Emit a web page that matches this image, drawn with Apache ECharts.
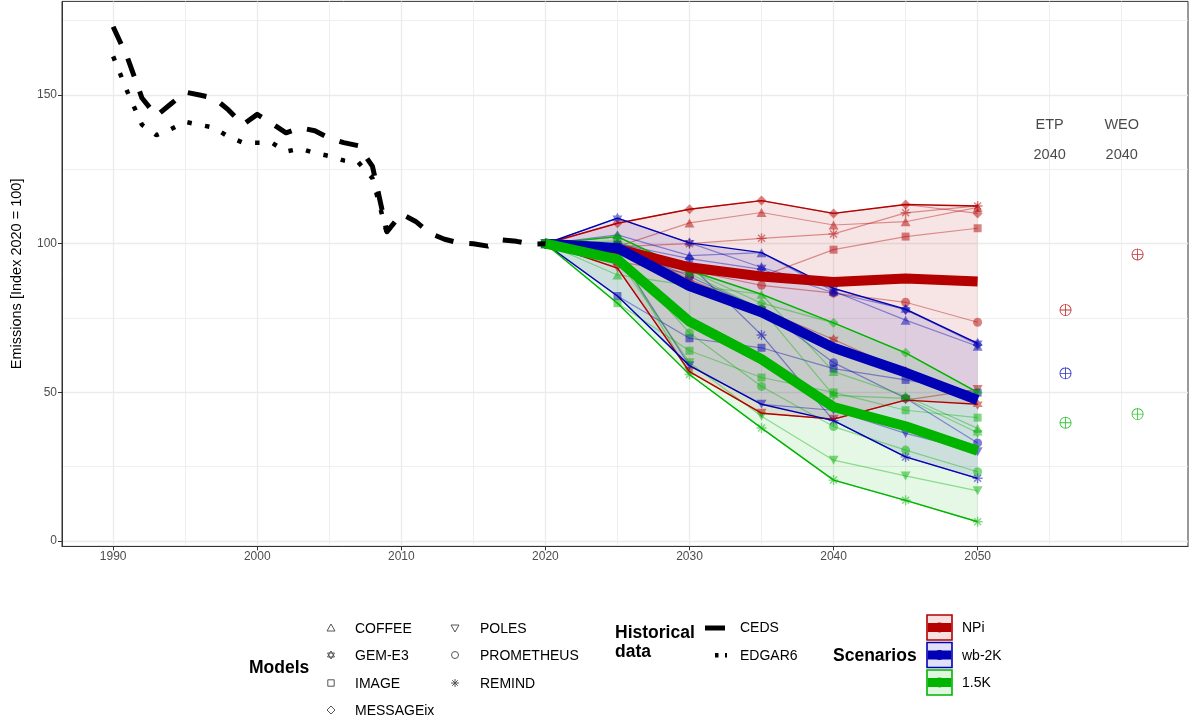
<!DOCTYPE html>
<html>
<head>
<meta charset="utf-8">
<title>Emissions index 1990-2050</title>
<script src="https://cdn.jsdelivr.net/npm/echarts@6/dist/echarts.min.js"></script>
<style>
  html, body { margin: 0; padding: 0; background: #ffffff; }
  #chart { width: 1190px; height: 722px; }
</style>
</head>
<body>
<div id="chart"></div>
<script>
// ---------- historical emissions (index, 2020 = 100) ----------
const histYears = [1990, 1991, 1992, 1993, 1994, 1995, 1996, 1997, 1998, 1999, 2000, 2001, 2002, 2003, 2004,
  2005, 2006, 2007, 2008, 2009, 2010, 2011, 2012, 2013, 2014, 2015, 2016, 2017, 2018, 2019, 2020];
const cedsIndex = [173, 162.5, 149, 143, 147, 151, 150, 149, 145, 140, 143.5, 140.5, 137.3, 139, 138,
  135.5, 134, 133, 126, 104, 110, 107.5, 103.5, 101.5, 100.3, 100, 99.2, 101.3, 100.8, 99.9, 100];
const edgarYears = [1990, 1991, 1992, 1993, 1994, 1995, 1996, 1997, 1998, 1999, 2000, 2001, 2002, 2003,
  2004, 2005, 2006, 2007, 2008, 2009];
const edgar6Index = [163, 151, 140, 136.5, 138.5, 141, 140, 139, 136, 134, 134, 134, 131, 132,
  130.5, 129.5, 128, 127.5, 122, 103.5];

// ---------- model projections ----------
const scenYears = [2020, 2025, 2030, 2035, 2040, 2045, 2050];
const modelNames = ['COFFEE', 'GEM-E3', 'IMAGE', 'MESSAGEix', 'POLES', 'PROMETHEUS', 'REMIND'];

// NPi
const npiCOFFEE     = [100, 99, 107, 110.5, 106.3, 107.4, 112.2];
const npiGEME3      = [100, 100, 88, 78, 67.8, 57, 46];
const npiIMAGE      = [100, 94, 90, 89, 98, 102.4, 105.2];
const npiMESSAGEix  = [100, 106.9, 111.6, 114.5, 110.2, 113.2, 110.2];
const npiPOLES      = [100, 91.8, 57, 43, 41, 47.4, 51];
const npiPROMETHEUS = [100, 97, 91, 86, 83.4, 80.3, 73.6];
const npiREMIND     = [100, 99, 100, 101.8, 103.3, 110.4, 112.7];

// wb-2K
const wb2COFFEE     = [100, 103, 96, 97, 84, 74.3, 65.5];
const wb2GEME3      = [100, 108.6, 100.3, 92, 85, 77.7, 66.5];
const wb2IMAGE      = [100, 82.4, 68.2, 65, 58, 54.2, 49.9];
const wb2MESSAGEix  = [100, 100, 95, 91.4, 83.5, 78, 66];
const wb2POLES      = [100, 97, 59, 46, 44, 36.2, 30];
const wb2PROMETHEUS = [100, 99, 89, 78, 60, 48, 33];
const wb2REMIND     = [100, 100, 93, 69.3, 40.5, 28.3, 21.1];

// 1.5K
const k15COFFEE     = [100, 89.5, 86, 83, 57, 48.8, 37.9];
const k15GEME3      = [100, 101, 90, 78, 49, 48, 36.4];
const k15IMAGE      = [100, 80, 64, 55, 50, 44, 41.5];
const k15MESSAGEix  = [100, 102.4, 91, 80, 73.4, 63.3, 50];
const k15POLES      = [100, 95, 60, 42, 27.2, 21.9, 16.9];
const k15PROMETHEUS = [100, 97, 70, 52, 38.5, 30.6, 23.3];
const k15REMIND     = [100, 98, 56, 38, 20.5, 13.7, 6.5];

// ---------- 2040 outlook benchmarks (NPi, wb-2K, 1.5K) ----------
const outlookNames = ['ETP', 'WEO'];
const outlookSlots = [2055, 2060];
const etp2040 = [77.7, 56.4, 39.8];
const weo2040 = [96.4, null, 42.7];

// ---------- axis ticks ----------
const xTickYears = [1990, 2000, 2010, 2020, 2030, 2040, 2050];
const xMinorYears = [1995, 2005, 2015, 2025, 2035, 2045, 2055, 2060];
const yTickValues = [0, 50, 100, 150];
const yMinorValues = [25, 75, 125, 175];

// ---------- styling ----------
const FONT = 'Liberation Sans, Arial, Helvetica, sans-serif';
const scenarios = [
  { name: 'NPi',   color: '#b40000', rgb: '180,0,0',
    runs: [npiCOFFEE, npiGEME3, npiIMAGE, npiMESSAGEix, npiPOLES, npiPROMETHEUS, npiREMIND] },
  { name: 'wb-2K', color: '#0000b4', rgb: '0,0,180',
    runs: [wb2COFFEE, wb2GEME3, wb2IMAGE, wb2MESSAGEix, wb2POLES, wb2PROMETHEUS, wb2REMIND] },
  { name: '1.5K',  color: '#00b400', rgb: '0,180,0',
    runs: [k15COFFEE, k15GEME3, k15IMAGE, k15MESSAGEix, k15POLES, k15PROMETHEUS, k15REMIND] }
];

const SYM_STAR6 = 'path://M5,0 L9.33,7.5 L0.67,7.5 Z M0.67,2.5 L9.33,2.5 L5,10 Z';
const SYM_DOWN = 'path://M0,0 L10,0 L5,8.66 Z';
const SYM_AST = 'path://M4.3,0 L5.7,0 L5.7,10 L4.3,10 Z M0,4.3 L10,4.3 L10,5.7 L0,5.7 Z ' +
  'M1.0,2.0 L2.0,1.0 L9.0,8.0 L8.0,9.0 Z M8.0,1.0 L9.0,2.0 L2.0,9.0 L1.0,8.0 Z';
const SYM_OPLUS = 'path://M0,10 A10,10 0 1,1 20,10 A10,10 0 1,1 0,10 Z ' +
  'M1.4,10 A8.6,8.6 0 1,0 18.6,10 A8.6,8.6 0 1,0 1.4,10 Z ' +
  'M9.3,0 L10.7,0 L10.7,20 L9.3,20 Z M0,9.3 L20,9.3 L20,10.7 L0,10.7 Z';
const modelSymbols = ['triangle', SYM_STAR6, 'rect', 'diamond', SYM_DOWN, 'circle', SYM_AST];
const modelSymbolSize = [[10, 9], [10, 11], [8, 8], [10, 10], [10, 9], [9, 9], [10, 10]];

const pairs = (xs, ys) => xs.map((x, i) => [x, ys[i]]);

// ---------- series ----------
const ribbonSeries = [], runSeries = [], markerSeries = [], edgeSeries = [], meanSeries = [];

scenarios.forEach(sc => {
  const lo = scenYears.map((_, i) => Math.min(...sc.runs.map(r => r[i])));
  const hi = scenYears.map((_, i) => Math.max(...sc.runs.map(r => r[i])));
  const mean = scenYears.map((_, i) => sc.runs.reduce((s, r) => s + r[i], 0) / sc.runs.length);

  ribbonSeries.push({
    type: 'custom', name: sc.name + ' range', silent: true, z: 2,
    data: [[scenYears[0], 100]],
    renderItem: (params, api) => {
      const top = hi.map((v, i) => api.coord([scenYears[i], v]));
      const bottom = lo.map((v, i) => api.coord([scenYears[i], v])).reverse();
      return { type: 'polygon', shape: { points: top.concat(bottom) },
               style: { fill: 'rgba(' + sc.rgb + ',0.1)', stroke: null } };
    }
  });

  sc.runs.forEach((run, m) => {
    runSeries.push({
      type: 'line', name: sc.name + ' ' + modelNames[m], silent: true, z: 3,
      data: pairs(scenYears, run), showSymbol: false,
      lineStyle: { color: sc.color, width: 1.2, opacity: 0.4 }
    });
    markerSeries.push({
      type: 'scatter', name: sc.name + ' ' + modelNames[m] + ' points', silent: true, z: 3,
      data: pairs(scenYears, run),
      symbol: modelSymbols[m], symbolSize: modelSymbolSize[m],
      itemStyle: { color: 'rgba(' + sc.rgb + ',0.62)' }
    });
  });

  [lo, hi].forEach(bound => {
    edgeSeries.push({
      type: 'line', silent: true, z: 4, data: pairs(scenYears, bound),
      showSymbol: false, lineStyle: { color: sc.color, width: 1.4 }
    });
  });

  meanSeries.push({
    type: 'line', name: sc.name + ' mean', silent: true, z: 5, data: pairs(scenYears, mean),
    showSymbol: false, lineStyle: { color: sc.color, width: 10, cap: 'butt', join: 'round' }
  });
});

// grid lines drawn in data space, kept beneath every other layer
const gridLine = (w) => ({ color: '#ebebeb', width: w, type: 'solid' });
const gridSeries = {
  type: 'line', data: [], silent: true, z: 0,
  markLine: {
    z: 0, silent: true, symbol: 'none', animation: false, label: { show: false },
    data: [
      ...xMinorYears.map(x => ({ xAxis: x, lineStyle: gridLine(0.8) })),
      ...yMinorValues.map(y => ({ yAxis: y, lineStyle: gridLine(0.8) })),
      ...xTickYears.map(x => ({ xAxis: x, lineStyle: gridLine(1.3) })),
      ...yTickValues.map(y => ({ yAxis: y, lineStyle: gridLine(1.3) }))
    ]
  }
};

const histSeries = [
  { type: 'line', name: 'EDGAR6', silent: true, z: 6, data: pairs(edgarYears, edgar6Index), showSymbol: false,
    lineStyle: { color: '#000', width: 4.5, type: [4.5, 13.5], cap: 'butt' } },
  { type: 'line', name: 'CEDS', silent: true, z: 6, data: pairs(histYears, cedsIndex), showSymbol: false,
    lineStyle: { color: '#000', width: 5, type: [19, 16], cap: 'butt', join: 'round' } }
];

const outlookShift = 1.1;
const outlookPoints = [];
[etp2040, weo2040].forEach((vals, k) => {
  vals.forEach((v, s) => {
    if (v == null) return;
    outlookPoints.push({ value: [outlookSlots[k] + outlookShift, v], itemStyle: { color: scenarios[s].color } });
  });
});
const outlookSeries = {
  type: 'scatter', silent: true, z: 7, symbol: SYM_OPLUS, symbolSize: 12, data: outlookPoints
};
const outlookLabels = {
  type: 'scatter', silent: true, z: 7, symbolSize: 1, itemStyle: { color: 'rgba(0,0,0,0)' },
  data: [
    ...outlookNames.map((n, k) => [outlookSlots[k], 140, n]),
    ...outlookSlots.map(x => [x, 129.8, '2040'])
  ],
  label: { show: true, position: 'inside', formatter: p => p.data[2],
           color: '#1a1a1a', fontSize: 14.5, fontFamily: FONT }
};

// ---------- legend (drawn as graphics) ----------
const G = [];
const txt = (x, y, s, opts = {}) => G.push({
  type: 'text', x, y, silent: true,
  style: Object.assign({ text: s, fill: '#000', font: '14px ' + FONT,
    textAlign: 'left', align: 'left', textVerticalAlign: 'middle', verticalAlign: 'middle' }, opts)
});
const bold = (x, y, s) => txt(x, y, s, { font: 'bold 17.5px ' + FONT });
const keyStroke = { fill: null, stroke: '#555', lineWidth: 1 };

bold(249, 668, 'Models');
const modelKeyPos = [[331, 628], [331, 655], [331, 683], [331, 710], [455, 628], [455, 655], [455, 683]];
modelKeyPos.forEach(([cx, cy], m) => {
  const r = 4;
  switch (m) {
    case 0: G.push({ type: 'polygon', silent: true, shape: { points: [[cx, cy - r], [cx + r, cy + r * 0.75], [cx - r, cy + r * 0.75]] }, style: keyStroke }); break;
    case 1:
      G.push({ type: 'polygon', silent: true, shape: { points: [[cx, cy - r], [cx + r * 0.87, cy + r * 0.5], [cx - r * 0.87, cy + r * 0.5]] }, style: keyStroke });
      G.push({ type: 'polygon', silent: true, shape: { points: [[cx, cy + r], [cx + r * 0.87, cy - r * 0.5], [cx - r * 0.87, cy - r * 0.5]] }, style: keyStroke });
      break;
    case 2: G.push({ type: 'rect', silent: true, shape: { x: cx - 3.2, y: cy - 3.2, width: 6.4, height: 6.4 }, style: keyStroke }); break;
    case 3: G.push({ type: 'polygon', silent: true, shape: { points: [[cx, cy - r], [cx + r, cy], [cx, cy + r], [cx - r, cy]] }, style: keyStroke }); break;
    case 4: G.push({ type: 'polygon', silent: true, shape: { points: [[cx - r, cy - r * 0.75], [cx + r, cy - r * 0.75], [cx, cy + r]] }, style: keyStroke }); break;
    case 5: G.push({ type: 'circle', silent: true, shape: { cx, cy, r: 3.5 }, style: keyStroke }); break;
    case 6:
      [[0, -r, 0, r], [-r, 0, r, 0], [-r * 0.7, -r * 0.7, r * 0.7, r * 0.7], [-r * 0.7, r * 0.7, r * 0.7, -r * 0.7]].forEach(([a, b, c, d]) =>
        G.push({ type: 'line', silent: true, shape: { x1: cx + a, y1: cy + b, x2: cx + c, y2: cy + d }, style: { stroke: '#555', lineWidth: 1 } }));
      break;
  }
  txt(m < 4 ? 355 : 480, cy + 1, modelNames[m]);
});

bold(615, 633, 'Historical');
bold(615, 652, 'data');
G.push({ type: 'line', silent: true, shape: { x1: 705, y1: 628, x2: 725, y2: 628 }, style: { stroke: '#000', lineWidth: 5 } });
G.push({ type: 'rect', silent: true, shape: { x: 715, y: 653, width: 3.5, height: 4.5 }, style: { fill: '#000' } });
G.push({ type: 'rect', silent: true, shape: { x: 725, y: 653, width: 2, height: 4.5 }, style: { fill: '#000' } });
txt(740, 628, 'CEDS');
txt(740, 656, 'EDGAR6');

bold(833, 656, 'Scenarios');
scenarios.forEach((sc, s) => {
  const y0 = 615 + s * 27.5;
  G.push({ type: 'rect', silent: true, shape: { x: 927, y: y0, width: 25, height: 25 },
           style: { fill: 'rgba(' + sc.rgb + ',0.12)', stroke: sc.color, lineWidth: 1.6 } });
  G.push({ type: 'line', silent: true, shape: { x1: 927.8, y1: y0 + 12.5, x2: 951.2, y2: y0 + 12.5 },
           style: { stroke: sc.color, lineWidth: 9 } });
  G.push({ type: 'circle', silent: true, shape: { cx: 939.5, cy: y0 + 12.5, r: 5 },
           style: { fill: sc.color } });
  txt(962, y0 + 13.5, sc.name);
});

// ---------- chart ----------
const plainNumber = v => String(v);
const chart = echarts.init(document.getElementById('chart'), null, { renderer: 'canvas' });
chart.setOption({
  animation: false,
  backgroundColor: '#ffffff',
  textStyle: { fontFamily: FONT },
  grid: { left: 62, right: 2, top: 1.4, bottom: 175.6, show: true, borderColor: '#333333', borderWidth: 1, containLabel: false },
  xAxis: {
    type: 'value', min: 1986.45, max: 2064.6,
    axisLine: { show: true, onZero: false, lineStyle: { color: '#333333', width: 1 } },
    axisTick: { show: true, length: 4, customValues: xTickYears, lineStyle: { color: '#333333' } },
    axisLabel: { show: true, customValues: xTickYears, formatter: plainNumber, color: '#4d4d4d', fontSize: 12, margin: 4, fontFamily: FONT },
    splitLine: { show: false }
  },
  yAxis: {
    type: 'value', min: -1.8, max: 181.5,
    name: 'Emissions [Index 2020 = 100]', nameLocation: 'middle', nameRotate: 90, nameGap: 38,
    nameTextStyle: { color: '#000', fontSize: 14.5, fontFamily: FONT },
    axisLine: { show: true, onZero: false, lineStyle: { color: '#333333', width: 1 } },
    axisTick: { show: true, length: 4, customValues: yTickValues, lineStyle: { color: '#333333' } },
    axisLabel: { show: true, customValues: yTickValues, formatter: plainNumber, color: '#4d4d4d', fontSize: 12, margin: 5, fontFamily: FONT },
    splitLine: { show: false }
  },
  series: [gridSeries, ...ribbonSeries, ...runSeries, ...markerSeries, ...edgeSeries, ...meanSeries,
           ...histSeries, outlookSeries, outlookLabels],
  graphic: G
});
</script>
</body>
</html>
